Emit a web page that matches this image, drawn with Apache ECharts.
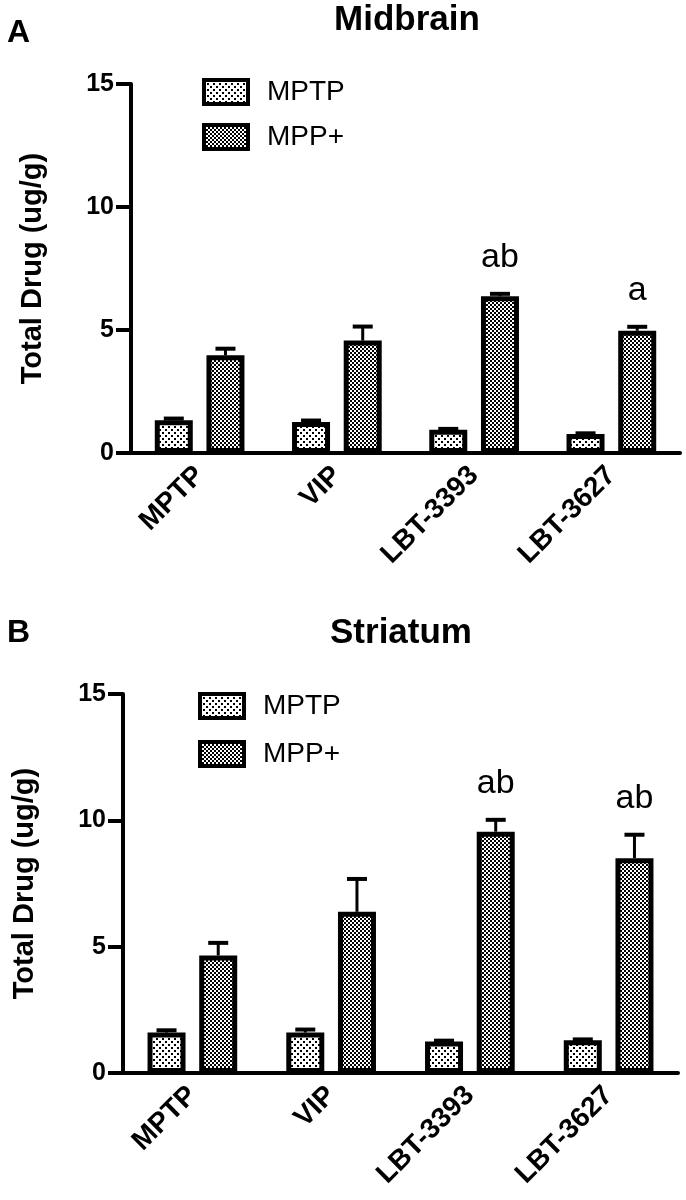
<!DOCTYPE html>
<html>
<head>
<meta charset="utf-8">
<script src="https://cdn.jsdelivr.net/npm/echarts@6/dist/echarts.min.js"></script>
<style>html,body{margin:0;padding:0;background:#fff;}#c{width:686px;height:1200px;}</style>
</head>
<body>
<div id="c"></div>
<script>
const categories = ['MPTP', 'VIP', 'LBT-3393', 'LBT-3627'];
const seriesNames = ['MPTP', 'MPP+'];
const yTicks = [0, 5, 10, 15];

// Panel A: Midbrain
const midMPTP = [1.33, 1.26, 0.95, 0.77];
const midMPTPErr = [0.07, 0.06, 0.03, 0.03];
const midMPP = [3.97, 4.57, 6.37, 4.97];
const midMPPErr = [0.27, 0.57, 0.1, 0.16];
const midSig = ['', '', 'ab', 'a'];

// Panel B: Striatum
const strMPTP = [1.6, 1.6, 1.25, 1.3];
const strMPTPErr = [0.09, 0.12, 0.03, 0.03];
const strMPP = [4.65, 6.38, 9.55, 8.5];
const strMPPErr = [0.5, 1.3, 0.47, 0.93];
const strSig = ['', '', 'ab', 'ab'];

const FONT = '"Liberation Sans", Arial, Helvetica, sans-serif';

function makePattern(bg, fg, size, dots) {
  const cv = document.createElement('canvas');
  cv.width = size; cv.height = size;
  const ctx = cv.getContext('2d');
  ctx.fillStyle = bg; ctx.fillRect(0, 0, size, size);
  ctx.fillStyle = fg;
  dots.forEach(d => ctx.fillRect(d[0], d[1], d[2], d[2]));
  return cv;
}
const patMPTP = makePattern('#ffffff', '#000000', 6, [[0, 0, 2], [3, 3, 2]]);
const patMPP = makePattern('#000000', '#ffffff', 4, [[0, 0, 2], [2, 2, 2]]);

const BAR_W = 38;
const BAR_GAP = 0.36;
const OFF = (BAR_W + BAR_W * BAR_GAP) / 2;

function errRender(offset, sig) {
  return function (params, api) {
    const x = api.coord([api.value(0), 0])[0] + offset;
    const yTop = api.coord([api.value(0), api.value(1)])[1];
    const yErr = api.coord([api.value(0), api.value(1) + api.value(2)])[1];
    const children = [
      { type: 'line', shape: { x1: x, y1: yTop, x2: x, y2: yErr }, style: { stroke: '#000', lineWidth: 3 } },
      { type: 'line', shape: { x1: x - 10, y1: yErr, x2: x + 10, y2: yErr }, style: { stroke: '#000', lineWidth: 4 } }
    ];
    const s = sig ? sig[params.dataIndex] : '';
    if (s) {
      children.push({ type: 'text', x: x, y: yErr - 19, style: { text: s, fill: '#000', font: '34px ' + FONT, align: 'center', verticalAlign: 'bottom' } });
    }
    return { type: 'group', children: children };
  };
}

function panelSeries(idx, mptp, mptpErr, mpp, mppErr, sig) {
  return [
    { name: 'MPTP', type: 'bar', xAxisIndex: idx, yAxisIndex: idx, data: mptp, barWidth: BAR_W, barGap: (BAR_GAP * 100) + '%',
      itemStyle: { color: { image: patMPTP, repeat: 'repeat' }, borderColor: '#000', borderWidth: 5 }, z: 3 },
    { name: 'MPP+', type: 'bar', xAxisIndex: idx, yAxisIndex: idx, data: mpp, barWidth: BAR_W, barGap: (BAR_GAP * 100) + '%',
      itemStyle: { color: { image: patMPP, repeat: 'repeat' }, borderColor: '#000', borderWidth: 5 }, z: 3 },
    { type: 'custom', xAxisIndex: idx, yAxisIndex: idx, renderItem: errRender(-OFF, null),
      data: mptp.map((v, i) => [i, v, mptpErr[i]]), z: 2, silent: true },
    { type: 'custom', xAxisIndex: idx, yAxisIndex: idx, renderItem: errRender(OFF, sig),
      data: mpp.map((v, i) => [i, v, mppErr[i]]), z: 2, silent: true }
  ];
}

function xAxisCfg(gi) {
  return {
    type: 'category', gridIndex: gi, data: categories,
    axisLine: { lineStyle: { color: '#000', width: 4 } },
    axisTick: { alignWithLabel: true, length: 10, lineStyle: { color: '#000', width: 4 } },
    axisLabel: { rotate: 45, fontSize: 28, fontWeight: 'bold', color: '#000', fontFamily: FONT, margin: 18 },
    splitLine: { show: false }
  };
}
function yAxisCfg(gi) {
  return {
    type: 'value', gridIndex: gi, min: yTicks[0], max: yTicks[yTicks.length - 1], interval: 5,
    name: 'Total Drug (ug/g)', nameLocation: 'middle', nameRotate: 90, nameGap: 84,
    nameTextStyle: { fontSize: 29, fontWeight: 'bold', color: '#000', fontFamily: FONT },
    axisLine: { show: true, lineStyle: { color: '#000', width: 4 } },
    axisTick: { show: true, length: 15, lineStyle: { color: '#000', width: 4 } },
    axisLabel: { fontSize: 25, fontWeight: 'bold', color: '#000', fontFamily: FONT, margin: 17 },
    splitLine: { show: false }
  };
}
function legendCfg(left, top, gap) {
  return {
    left: left, top: top, padding: 0, orient: 'vertical', icon: 'rect', itemWidth: 44, itemHeight: 24, itemGap: gap,
    data: seriesNames, selectedMode: false,
    itemStyle: { borderColor: '#000', borderWidth: 4 },
    textStyle: { fontSize: 28, color: '#000', fontFamily: FONT, padding: [0, 0, 0, 14] }
  };
}

const chart = echarts.init(document.getElementById('c'), null, { renderer: 'canvas' });
chart.setOption({
  animation: false,
  backgroundColor: '#fff',
  graphic: [
    { type: 'text', x: 7, y: 33, style: { text: 'A', font: 'bold 32px ' + FONT, fill: '#000', verticalAlign: 'middle' } },
    { type: 'text', x: 407, y: 20, style: { text: 'Midbrain', font: 'bold 35px ' + FONT, fill: '#000', align: 'center', verticalAlign: 'middle' } },
    { type: 'text', x: 7, y: 633, style: { text: 'B', font: 'bold 32px ' + FONT, fill: '#000', verticalAlign: 'middle' } },
    { type: 'text', x: 401, y: 633, style: { text: 'Striatum', font: 'bold 35px ' + FONT, fill: '#000', align: 'center', verticalAlign: 'middle' } }
  ],
  legend: [legendCfg(202, 78, 17), legendCfg(198, 692, 20)],
  grid: [
    { left: 131, top: 84, width: 549, height: 369, containLabel: false },
    { left: 123, top: 694, width: 555, height: 379, containLabel: false }
  ],
  xAxis: [xAxisCfg(0), xAxisCfg(1)],
  yAxis: [yAxisCfg(0), yAxisCfg(1)],
  series: [].concat(
    panelSeries(0, midMPTP, midMPTPErr, midMPP, midMPPErr, midSig),
    panelSeries(1, strMPTP, strMPTPErr, strMPP, strMPPErr, strSig)
  )
});
</script>
</body>
</html>
